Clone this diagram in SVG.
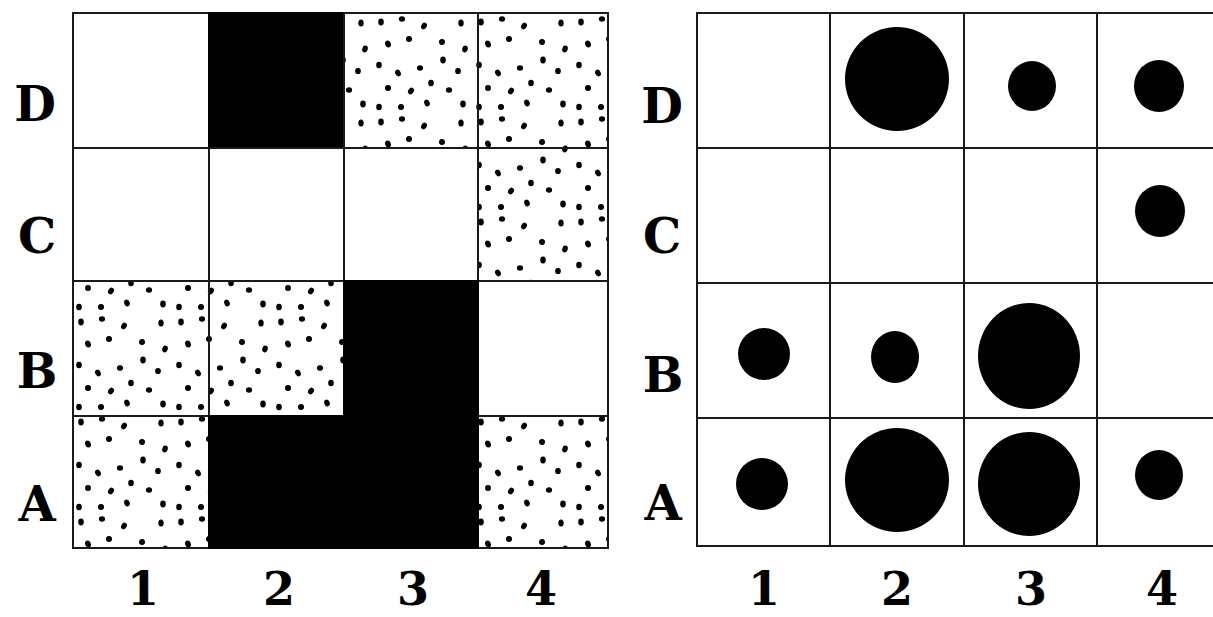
<svg xmlns="http://www.w3.org/2000/svg" width="1213" height="617" viewBox="0 0 1213 617">
<style>
.cell{stroke:#1a1a1a;stroke-width:2}
.w{fill:#fff}
.k{fill:#000;stroke:#000}
.s{fill:url(#stip)}
.dot{fill:#000}
.lbl{font-family:"DejaVu Serif","Liberation Serif",serif;font-weight:bold;font-size:48px;fill:#000;text-anchor:middle}
.num{font-size:46px}
</style>
<defs>
<pattern id="stip" patternUnits="userSpaceOnUse" width="100" height="100" x="73" y="13">
<rect width="100" height="100" fill="#fff"/>
<g fill="#000">
<ellipse cx="8" cy="9" rx="2.8" ry="3.4"/>
<ellipse cx="29" cy="6" rx="3.1" ry="2.8"/>
<ellipse cx="51" cy="13" rx="2.7" ry="3.5" transform="rotate(30 51 13)"/>
<ellipse cx="88" cy="10" rx="2.7" ry="3.5"/>
<ellipse cx="15" cy="31" rx="2.8" ry="3.5" transform="rotate(-25 15 31)"/>
<ellipse cx="36" cy="26" rx="3" ry="2.9"/>
<ellipse cx="69" cy="29" rx="3" ry="3"/>
<ellipse cx="92" cy="36" rx="2.7" ry="3.4" transform="rotate(20 92 36)"/>
<ellipse cx="6" cy="52" rx="2.8" ry="3.3"/>
<ellipse cx="47" cy="55" rx="3.1" ry="2.8"/>
<ellipse cx="70" cy="47" rx="2.8" ry="3.4"/>
<ellipse cx="85" cy="58" rx="2.9" ry="3.1"/>
<ellipse cx="25" cy="60" rx="2.7" ry="3.5" transform="rotate(-30 25 60)"/>
<ellipse cx="15" cy="75" rx="3" ry="3"/>
<ellipse cx="38" cy="78" rx="2.7" ry="3.5" transform="rotate(35 38 78)"/>
<ellipse cx="58" cy="70" rx="2.8" ry="3.3"/>
<ellipse cx="76" cy="77" rx="3.1" ry="2.8"/>
<ellipse cx="6" cy="94" rx="2.8" ry="3.2"/>
<ellipse cx="28" cy="94" rx="3" ry="2.9"/>
<ellipse cx="54" cy="90" rx="2.7" ry="3.5" transform="rotate(-20 54 90)"/>
<ellipse cx="90" cy="91" rx="2.8" ry="3.4"/>
</g>
</pattern>
</defs>
<rect width="1213" height="617" fill="#fff"/>

<g id="left-grid">
<g id="L-D1"><rect class="cell w" x="73" y="13" width="136" height="135"/></g>
<g id="L-D2"><rect class="cell k" x="209" y="13" width="135" height="135"/></g>
<g id="L-D3"><rect class="cell s" x="344" y="13" width="134" height="135"/></g>
<g id="L-D4"><rect class="cell s" x="478" y="13" width="130" height="135"/></g>
<g id="L-C1"><rect class="cell w" x="73" y="148" width="136" height="133"/></g>
<g id="L-C2"><rect class="cell w" x="209" y="148" width="135" height="133"/></g>
<g id="L-C3"><rect class="cell w" x="344" y="148" width="134" height="133"/></g>
<g id="L-C4"><rect class="cell s" x="478" y="148" width="130" height="133"/></g>
<g id="L-B1"><rect class="cell s" x="73" y="281" width="136" height="135"/></g>
<g id="L-B2"><rect class="cell s" x="209" y="281" width="135" height="135"/></g>
<g id="L-B4"><rect class="cell w" x="478" y="281" width="130" height="135"/></g>
<g id="L-A1"><rect class="cell s" x="73" y="416" width="136" height="132"/></g>
<g id="L-A4"><rect class="cell s" x="478" y="416" width="130" height="132"/></g>
<g id="L-B3"><rect class="cell k" x="344" y="281" width="134" height="135"/></g>
<g id="L-A2"><rect class="cell k" x="209" y="416" width="135" height="132"/></g>
<g id="L-A3"><rect class="cell k" x="344" y="416" width="134" height="132"/></g>
</g>

<g id="right-grid">
<g id="R-D1"><rect class="cell w" x="697" y="13" width="133" height="135"/></g>
<g id="R-D2"><rect class="cell w" x="830" y="13" width="134" height="135"/><circle class="dot" cx="897" cy="79" r="52"/></g>
<g id="R-D3"><rect class="cell w" x="964" y="13" width="133" height="135"/><ellipse class="dot" cx="1032" cy="86" rx="24" ry="25"/></g>
<g id="R-D4"><rect class="cell w" x="1097" y="13" width="140" height="135"/><ellipse class="dot" cx="1159" cy="86" rx="25" ry="26"/></g>
<g id="R-C1"><rect class="cell w" x="697" y="148" width="133" height="135"/></g>
<g id="R-C2"><rect class="cell w" x="830" y="148" width="134" height="135"/></g>
<g id="R-C3"><rect class="cell w" x="964" y="148" width="133" height="135"/></g>
<g id="R-C4"><rect class="cell w" x="1097" y="148" width="140" height="135"/><ellipse class="dot" cx="1160" cy="211" rx="25" ry="26"/></g>
<g id="R-B1"><rect class="cell w" x="697" y="283" width="133" height="135"/><ellipse class="dot" cx="764" cy="354" rx="26" ry="26"/></g>
<g id="R-B2"><rect class="cell w" x="830" y="283" width="134" height="135"/><ellipse class="dot" cx="895" cy="357" rx="24" ry="26"/></g>
<g id="R-B3"><rect class="cell w" x="964" y="283" width="133" height="135"/><ellipse class="dot" cx="1029" cy="356" rx="51" ry="53"/></g>
<g id="R-B4"><rect class="cell w" x="1097" y="283" width="140" height="135"/></g>
<g id="R-A1"><rect class="cell w" x="697" y="418" width="133" height="128"/><ellipse class="dot" cx="762" cy="484" rx="26" ry="26"/></g>
<g id="R-A2"><rect class="cell w" x="830" y="418" width="134" height="128"/><ellipse class="dot" cx="897" cy="480" rx="52" ry="52"/></g>
<g id="R-A3"><rect class="cell w" x="964" y="418" width="133" height="128"/><ellipse class="dot" cx="1029" cy="484" rx="51" ry="52"/></g>
<g id="R-A4"><rect class="cell w" x="1097" y="418" width="140" height="128"/><ellipse class="dot" cx="1159" cy="475" rx="24" ry="25"/></g>
</g>

<g id="labels">
<text class="lbl" x="35" y="121">D</text>
<text class="lbl" x="37" y="253">C</text>
<text class="lbl" x="37" y="388">B</text>
<text class="lbl" x="37" y="521">A</text>
<text class="lbl" x="662" y="123">D</text>
<text class="lbl" x="662" y="253">C</text>
<text class="lbl" x="663" y="392">B</text>
<text class="lbl" x="663" y="520">A</text>
<text class="lbl num" x="143" y="605">1</text>
<text class="lbl num" x="279" y="605">2</text>
<text class="lbl num" x="413" y="605">3</text>
<text class="lbl num" x="541" y="605">4</text>
<text class="lbl num" x="764" y="605">1</text>
<text class="lbl num" x="897" y="605">2</text>
<text class="lbl num" x="1031" y="605">3</text>
<text class="lbl num" x="1162" y="605">4</text>
</g>
</svg>
